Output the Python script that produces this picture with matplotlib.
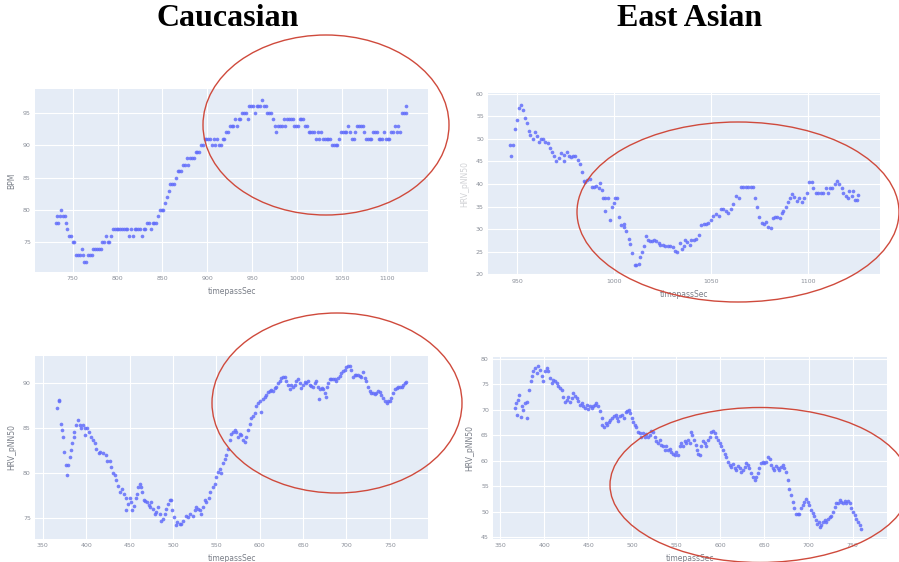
import matplotlib.pyplot as plt
from matplotlib.patches import Ellipse

# Caucasian subject: heart rate (BPM) over time
cau_bpm_t = [731, 733, 734, 736, 737, 739, 741, 742, 744, 746,
             748, 750, 752, 754, 756, 758, 760, 762, 763, 765,
             767, 769, 771, 773, 775, 777, 779, 781, 783, 785,
             787, 789, 791, 793, 795, 797, 799, 801, 803, 805,
             807, 809, 811, 813, 815, 817, 819, 821, 823, 825,
             827, 829, 831, 833, 835, 837, 839, 841, 843, 845,
             847, 849, 851, 853, 855, 857, 859, 861, 863, 865,
             867, 869, 871, 873, 875, 877, 879, 881, 883, 885,
             887, 889, 891, 893, 895, 897, 899, 901, 903, 905,
             907, 909, 911, 913, 915, 917, 919, 921, 923, 925,
             927, 929, 931, 933, 935, 937, 939, 941, 943, 945,
             947, 949, 951, 953, 955, 957, 959, 961, 963, 965,
             967, 969, 971, 973, 975, 977, 979, 981, 983, 985,
             987, 989, 991, 993, 995, 997, 999, 1001, 1003, 1005,
             1007, 1009, 1011, 1013, 1015, 1017, 1019, 1021, 1023, 1025,
             1027, 1029, 1031, 1033, 1035, 1037, 1039, 1041, 1043, 1045,
             1047, 1049, 1051, 1053, 1055, 1057, 1059, 1061, 1063, 1065,
             1067, 1069, 1071, 1073, 1075, 1077, 1079, 1081, 1083, 1085,
             1087, 1089, 1091, 1093, 1095, 1097, 1099, 1101, 1103, 1105,
             1107, 1109, 1111, 1113, 1115, 1117, 1119, 1121, 1122]
cau_bpm = [78, 79, 78, 79, 80, 79, 79, 78, 77, 76,
           76, 75, 75, 73, 73, 73, 74, 73, 72, 72,
           73, 73, 73, 74, 74, 74, 74, 74, 75, 75,
           76, 75, 75, 76, 77, 77, 77, 77, 77, 77,
           77, 77, 77, 76, 77, 76, 77, 77, 77, 77,
           76, 77, 77, 78, 78, 77, 78, 78, 78, 79,
           80, 80, 80, 81, 82, 83, 84, 84, 84, 85,
           86, 86, 86, 87, 87, 88, 87, 88, 88, 88,
           89, 89, 89, 90, 90, 91, 91, 91, 91, 90,
           91, 90, 91, 90, 90, 91, 91, 92, 92, 93,
           93, 93, 94, 93, 94, 94, 95, 95, 95, 94,
           96, 96, 96, 95, 96, 96, 96, 97, 96, 96,
           95, 95, 95, 94, 93, 92, 93, 93, 93, 94,
           93, 94, 94, 94, 94, 93, 93, 93, 94, 94,
           94, 93, 93, 92, 92, 92, 92, 91, 92, 91,
           92, 91, 91, 91, 91, 91, 90, 90, 90, 90,
           91, 92, 92, 92, 92, 93, 92, 91, 91, 92,
           93, 93, 93, 93, 92, 91, 91, 91, 91, 92,
           92, 92, 91, 91, 91, 92, 91, 91, 91, 92,
           92, 93, 92, 93, 92, 95, 95, 95, 96]

# East Asian subject: HRV over time (top row)
ea_top_t = [946.2, 947.9, 947.1, 949.1, 950.0, 950.9, 952.1, 953.1, 954.3, 955.1,
            956.0, 956.9, 958.2, 959.4, 960.3, 961.1, 962.3, 963.4, 964.6, 965.8,
            966.8, 968.0, 968.9, 970.2, 971.4, 972.6, 974.0, 974.4, 975.7, 976.6,
            977.8, 978.8, 980.0, 981.2, 982.2, 983.4, 984.3, 985.1, 986.0, 987.4,
            988.6, 989.8, 990.8, 992.0, 992.5, 993.7, 994.2, 995.5, 995.5, 996.7,
            997.7, 998.9, 1000.0, 1000.6, 1001.5, 1002.3, 1003.5, 1004.9, 1005.2, 1006.3,
            1007.5, 1008.3, 1009.2, 1010.5, 1011.4, 1012.6, 1013.5, 1014.3, 1015.2, 1016.4,
            1017.2, 1018.3, 1019.5, 1020.7, 1021.7, 1022.9, 1023.8, 1025.1, 1026.3, 1027.5,
            1028.9, 1030.3, 1031.5, 1032.3, 1033.7, 1034.9, 1035.8, 1036.6, 1037.8, 1038.9,
            1039.5, 1040.9, 1042.3, 1043.5, 1044.7, 1046.1, 1047.4, 1048.6, 1049.8, 1051.2,
            1052.6, 1053.8, 1055.0, 1056.3, 1057.7, 1058.9, 1060.1, 1061.5, 1062.9, 1064.1,
            1065.3, 1066.6, 1068.0, 1069.2, 1070.6, 1071.8, 1072.6, 1073.8, 1074.9, 1076.1,
            1077.4, 1078.3, 1079.5, 1080.8, 1081.7, 1082.9, 1084.1, 1085.5, 1086.4, 1087.2,
            1088.6, 1089.8, 1090.7, 1091.6, 1092.8, 1094.2, 1095.3, 1096.7, 1097.9, 1099.2,
            1100.6, 1101.8, 1102.7, 1103.9, 1105.2, 1106.4, 1107.8, 1109.0, 1110.0, 1111.2,
            1112.4, 1113.8, 1114.7, 1116.0, 1117.2, 1118.1, 1119.3, 1120.3, 1121.2, 1122.4,
            1123.2, 1124.1, 1125.0, 1125.8]
ea_top_v = [48.7, 48.7, 46.3, 52.2, 54.2, 56.8, 57.6, 56.5, 54.6, 53.6,
            51.7, 50.9, 50.0, 51.6, 50.7, 49.3, 50.0, 50.0, 49.3, 49.0,
            48.1, 47.0, 46.3, 45.0, 45.7, 46.8, 46.5, 45.2, 47.0, 46.3,
            45.9, 46.2, 46.3, 45.3, 44.4, 42.6, 40.7, 40.4, 40.9, 41.1,
            39.3, 39.4, 39.6, 39.1, 40.2, 38.7, 37.0, 37.0, 34.1, 37.0,
            32.0, 34.8, 35.7, 37.0, 37.0, 32.7, 31.0, 31.1, 30.4, 29.6,
            27.8, 26.7, 24.6, 22.0, 22.1, 22.2, 23.9, 25.0, 26.3, 28.4,
            27.6, 27.3, 27.4, 27.6, 27.4, 27.0, 26.5, 26.5, 26.3, 26.3,
            26.3, 26.1, 25.2, 25.0, 26.9, 25.6, 26.3, 27.6, 27.2, 26.4,
            27.6, 27.6, 27.7, 28.7, 30.9, 31.1, 31.1, 31.3, 32.0, 33.0,
            33.3, 33.0, 34.4, 34.4, 34.1, 33.5, 34.4, 35.6, 37.4, 36.8,
            39.3, 39.3, 39.3, 39.3, 39.3, 39.3, 36.8, 35.0, 32.6, 31.3,
            31.1, 31.5, 30.4, 30.2, 32.4, 32.6, 32.7, 32.4, 33.5, 34.1,
            34.8, 35.9, 37.0, 37.8, 37.2, 36.3, 36.9, 36.1, 37.0, 37.9,
            40.4, 40.4, 39.1, 37.9, 37.9, 37.9, 37.9, 39.1, 37.9, 39.1,
            39.1, 40.0, 40.7, 40.1, 39.1, 37.9, 37.4, 37.0, 38.4, 37.4,
            38.5, 36.4, 36.4, 37.6]

# Caucasian subject: HRV_pNN50 over time
cau_hrv_t = [366.2, 368.1, 369.2, 371.2, 372.3, 373.1, 375.0, 376.2, 377.7, 378.8,
             380.8, 382.7, 383.8, 385.4, 386.5, 388.5, 390.4, 392.3, 394.2, 396.2,
             398.1, 399.2, 400.8, 403.1, 405.8, 407.7, 409.6, 411.5, 414.2, 416.2,
             419.2, 422.3, 423.8, 426.9, 428.8, 430.8, 432.7, 434.6, 436.9, 439.2,
             441.5, 443.1, 445.4, 446.2, 448.1, 450.0, 451.9, 453.1, 454.6, 456.9,
             458.5, 460.0, 461.5, 463.1, 464.6, 466.2, 468.1, 470.0, 471.9, 473.1,
             475.0, 476.9, 478.8, 480.8, 482.7, 484.6, 486.5, 488.5, 490.4, 492.3,
             494.2, 496.2, 498.1, 499.2, 500.8, 503.1, 505.0, 507.7, 509.6, 511.5,
             514.6, 517.3, 520.0, 523.1, 525.0, 526.9, 528.8, 530.8, 532.7, 534.6,
             536.5, 538.5, 541.5, 543.1, 546.2, 548.1, 550.0, 551.9, 553.8, 555.8,
             557.7, 559.6, 561.5, 563.5, 565.4, 567.3, 569.2, 571.2, 573.1, 575.0,
             576.9, 578.8, 580.8, 582.7, 584.6, 586.5, 588.5, 590.4, 592.3, 594.2,
             596.2, 598.1, 600.0, 601.9, 603.8, 605.8, 607.7, 609.6, 611.5, 613.5,
             615.4, 617.3, 619.2, 621.2, 623.1, 625.0, 626.9, 628.8, 630.8, 632.7,
             634.6, 636.5, 638.5, 640.4, 642.3, 644.2, 646.2, 648.1, 650.0, 651.9,
             653.8, 655.8, 657.7, 659.6, 661.5, 663.5, 665.4, 667.3, 668.5, 670.0,
             671.5, 673.1, 675.0, 676.2, 677.7, 679.2, 680.8, 682.7, 684.6, 686.5,
             688.5, 690.4, 692.3, 694.2, 696.2, 698.1, 700.0, 701.9, 703.8, 705.8,
             707.7, 709.6, 711.5, 713.5, 715.4, 717.3, 719.2, 721.2, 723.1, 725.0,
             726.9, 728.8, 730.8, 732.7, 734.6, 736.5, 738.5, 740.4, 742.3, 744.2,
             746.2, 748.1, 750.0, 751.9, 753.8, 755.8, 757.7, 759.6, 761.5, 763.5,
             765.4, 767.3, 769.2]
cau_hrv_v = [87.2, 88.0, 88.1, 85.5, 84.8, 84.0, 82.4, 80.9, 79.8, 80.9,
             81.8, 82.6, 83.3, 84.0, 84.6, 85.3, 85.9, 85.3, 85.0, 85.3,
             85.0, 84.2, 85.0, 84.6, 84.0, 83.7, 83.3, 82.7, 82.2, 82.4,
             82.2, 82.0, 81.3, 81.4, 80.7, 80.0, 79.8, 79.2, 78.6, 77.9,
             78.3, 77.7, 77.2, 75.9, 76.6, 77.3, 76.8, 75.9, 76.4, 77.2,
             77.7, 78.5, 78.8, 78.5, 77.9, 77.0, 76.9, 76.8, 76.5, 76.2,
             76.8, 76.0, 75.5, 75.7, 76.2, 75.5, 74.7, 74.9, 75.5, 76.0,
             76.6, 77.0, 77.0, 75.9, 75.1, 74.2, 74.6, 74.4, 74.4, 74.7,
             75.3, 75.1, 75.5, 75.3, 75.9, 76.2, 76.0, 75.9, 75.5, 76.2,
             77.0, 76.8, 77.3, 77.9, 78.5, 78.8, 79.6, 80.1, 80.5, 80.0,
             81.1, 81.6, 82.0, 82.7, 83.7, 84.4, 84.6, 84.8, 84.6, 84.0,
             84.4, 84.2, 83.7, 83.5, 84.0, 84.8, 85.5, 86.1, 86.3, 86.7,
             87.4, 87.8, 88.0, 86.8, 88.2, 88.5, 88.7, 89.0, 89.1, 89.2,
             89.1, 89.4, 89.6, 90.0, 90.2, 90.6, 90.7, 90.7, 90.2, 89.8,
             89.3, 89.8, 89.6, 89.8, 90.2, 90.4, 90.0, 89.4, 89.8, 90.1,
             90.0, 90.2, 89.8, 89.7, 89.6, 90.0, 90.2, 89.6, 88.2, 89.3,
             89.4, 89.3, 88.9, 88.5, 89.6, 90.0, 90.4, 90.4, 90.4, 90.4,
             90.2, 90.6, 90.8, 91.1, 91.3, 91.5, 91.8, 91.9, 91.9, 91.5,
             90.7, 90.9, 90.9, 90.9, 90.8, 90.7, 91.2, 90.6, 90.2, 89.6,
             89.1, 88.9, 88.9, 88.8, 88.9, 89.1, 89.0, 88.7, 88.3, 88.0,
             87.8, 88.0, 88.0, 88.3, 88.9, 89.3, 89.4, 89.6, 89.6, 89.6,
             89.8, 90.0, 90.1]

# East Asian subject: HRV_pNN50 over time (bottom row)
ea_hrv_t = [367.0, 368.1, 368.9, 370.8, 371.9, 373.4, 374.5, 376.4, 378.3, 380.2,
            381.0, 383.2, 384.7, 385.8, 387.7, 389.6, 391.5, 393.4, 395.3, 397.2,
            399.1, 400.9, 402.8, 404.7, 406.6, 408.5, 410.4, 412.3, 414.2, 416.0,
            417.9, 419.8, 421.7, 423.6, 425.5, 427.4, 429.2, 431.1, 433.0, 434.9,
            436.8, 438.7, 440.6, 442.5, 444.3, 446.2, 448.1, 450.0, 451.9, 453.8,
            455.7, 457.5, 459.4, 461.3, 463.2, 465.1, 466.2, 467.7, 470.0, 471.5,
            473.8, 475.3, 477.5, 479.1, 481.3, 482.8, 484.3, 486.6, 488.9, 490.4,
            492.6, 494.2, 496.4, 497.9, 499.4, 500.9, 502.8, 504.7, 506.6, 508.5,
            510.4, 512.3, 514.2, 516.0, 517.9, 519.8, 521.7, 523.6, 525.5, 527.4,
            529.2, 531.1, 533.0, 534.9, 536.8, 538.7, 540.6, 542.5, 544.3, 546.2,
            548.1, 550.0, 551.9, 553.8, 555.7, 557.5, 559.4, 561.3, 563.2, 565.1,
            567.0, 568.1, 569.6, 571.9, 573.4, 574.9, 576.4, 578.3, 580.2, 582.1,
            584.0, 585.8, 587.7, 589.6, 591.5, 593.4, 595.3, 597.2, 599.1, 600.9,
            602.8, 604.7, 606.6, 608.5, 610.4, 612.3, 614.2, 616.0, 617.9, 619.8,
            621.7, 623.6, 625.5, 627.4, 629.2, 631.1, 633.0, 634.9, 636.8, 638.7,
            640.6, 642.5, 644.3, 646.2, 648.1, 650.0, 651.9, 653.8, 655.7, 657.5,
            659.4, 661.3, 663.2, 665.1, 667.0, 668.9, 670.8, 672.6, 674.5, 676.4,
            678.3, 680.2, 682.1, 684.0, 685.8, 687.7, 689.6, 691.5, 693.4, 695.3,
            697.2, 699.1, 700.9, 702.8, 704.7, 706.6, 708.5, 709.6, 711.5, 713.0,
            714.5, 716.4, 718.3, 720.2, 722.1, 724.0, 725.8, 727.7, 729.6, 731.5,
            733.4, 735.3, 737.2, 739.1, 741.0, 742.8, 744.7, 746.6, 748.5, 750.4,
            752.3, 754.2, 756.1, 758.0, 759.8]
ea_hrv_v = [70.3, 71.3, 69.0, 72.0, 73.0, 68.6, 70.7, 70.0, 71.4, 68.4,
            71.6, 73.9, 75.6, 76.6, 77.6, 78.2, 77.2, 78.6, 77.9, 76.6,
            75.6, 77.6, 78.2, 77.6, 76.3, 75.3, 75.9, 75.6, 75.3, 74.6,
            74.3, 73.9, 72.5, 71.6, 72.0, 72.6, 71.6, 72.3, 73.3, 72.8,
            72.3, 71.8, 71.0, 71.4, 70.7, 70.3, 71.0, 70.1, 70.8, 70.3,
            70.7, 71.0, 71.3, 70.7, 69.7, 68.4, 67.0, 66.7, 67.4, 67.0,
            67.7, 68.0, 68.4, 68.8, 69.0, 68.4, 67.9, 68.7, 69.0, 68.4,
            69.5, 69.7, 69.9, 69.3, 68.4, 67.7, 67.0, 66.6, 65.7, 65.4,
            64.7, 65.4, 64.7, 65.3, 64.7, 65.1, 65.9, 65.7, 64.7, 63.8,
            63.4, 64.1, 63.1, 62.8, 62.1, 62.9, 62.1, 62.4, 61.8, 61.4,
            61.1, 61.8, 61.1, 62.8, 63.4, 62.9, 63.8, 63.4, 64.1, 63.4,
            65.7, 65.1, 64.1, 63.1, 62.1, 61.4, 61.1, 62.8, 63.8, 63.4,
            62.8, 64.1, 64.7, 65.7, 65.9, 65.4, 64.7, 64.1, 63.4, 62.8,
            62.1, 61.4, 60.8, 59.8, 59.1, 58.8, 59.3, 58.5, 58.2, 58.9,
            58.5, 57.8, 58.2, 58.8, 59.5, 59.1, 58.5, 57.5, 56.8, 56.2,
            56.7, 57.5, 58.5, 59.5, 59.8, 59.6, 59.8, 60.8, 60.3, 59.1,
            58.5, 58.2, 58.9, 58.5, 58.2, 58.8, 59.1, 58.5, 57.8, 56.2,
            54.5, 53.2, 51.9, 50.6, 49.6, 49.5, 49.6, 50.6, 51.3, 51.9,
            52.4, 51.9, 51.3, 50.4, 49.7, 49.1, 48.3, 47.5, 48.0, 47.0,
            47.3, 48.0, 48.3, 48.0, 48.6, 48.9, 49.1, 49.9, 50.9, 51.6,
            51.7, 52.2, 51.9, 51.6, 52.1, 51.7, 52.1, 51.6, 50.6, 49.9,
            49.3, 48.6, 48.0, 47.3, 46.6]

W, H = 899, 562
BG = "#e5ecf6"
DOT = "#636efa"
TICK = "#8a8f99"


def panel(rect, t, v, xlim, ylim, xticks, yticks, ylabel, ylabel_alpha=1.0):
    left, top, right, bottom = rect
    ax = fig.add_axes([left / W, 1 - bottom / H, (right - left) / W, (bottom - top) / H])
    ax.set_facecolor(BG)
    for s in ax.spines.values():
        s.set_visible(False)
    ax.set_xlim(*xlim)
    ax.set_ylim(*ylim)
    ax.set_xticks(xticks)
    ax.set_yticks(yticks)
    ax.grid(True, color="white", linewidth=0.8)
    ax.set_axisbelow(True)
    ax.tick_params(length=0, labelsize=4.5, labelcolor=TICK, pad=3)
    ax.scatter(t, v, s=7, color=DOT, alpha=0.85, linewidths=0)
    ax.set_xlabel("timepassSec", fontsize=5.5, color="#7a7f88", labelpad=4)
    ax.set_ylabel(ylabel, fontsize=5.5, color="#7a7f88", labelpad=5, alpha=ylabel_alpha)
    return ax


fig = plt.figure(figsize=(W / 100, H / 100), dpi=100)

panel((35, 89, 428, 272), cau_bpm_t, cau_bpm, (708, 1146), (70.4, 98.7),
      range(750, 1101, 50), range(75, 96, 5), "BPM")
panel((488, 93, 880, 275), ea_top_t, ea_top_v, (935, 1137), (19.8, 60.2),
      range(950, 1101, 50), range(20, 61, 5), "HRV_pNN50", ylabel_alpha=0.35)
panel((35, 356, 428, 539), cau_hrv_t, cau_hrv_v, (341, 794), (72.7, 93.0),
      range(350, 751, 50), range(75, 91, 5), "HRV_pNN50")
panel((493, 357, 887, 539), ea_hrv_t, ea_hrv_v, (342, 789), (44.6, 80.4),
      range(350, 751, 50), range(45, 81, 5), "HRV_pNN50")

# overlay in pixel coordinates for headings and highlight rings
over = fig.add_axes([0, 0, 1, 1], facecolor="none")
over.set_xlim(0, W)
over.set_ylim(H, 0)
over.axis("off")

for name, cx in [("Caucasian", 228), ("East Asian", 690)]:
    over.text(cx, 19, name, ha="center", va="center", fontsize=23,
              fontweight="bold", family="Liberation Serif", color="black")

ring = dict(fill=False, edgecolor="#cf4a3c", linewidth=1.0, clip_on=False)
over.add_patch(Ellipse((326, 125), 246, 180, **ring))
over.add_patch(Ellipse((738, 212), 322, 180, **ring))
over.add_patch(Ellipse((337, 403), 250, 180, **ring))
over.add_patch(Ellipse((760, 485), 300, 155, **ring))

fig.savefig("out.png", dpi=100)
